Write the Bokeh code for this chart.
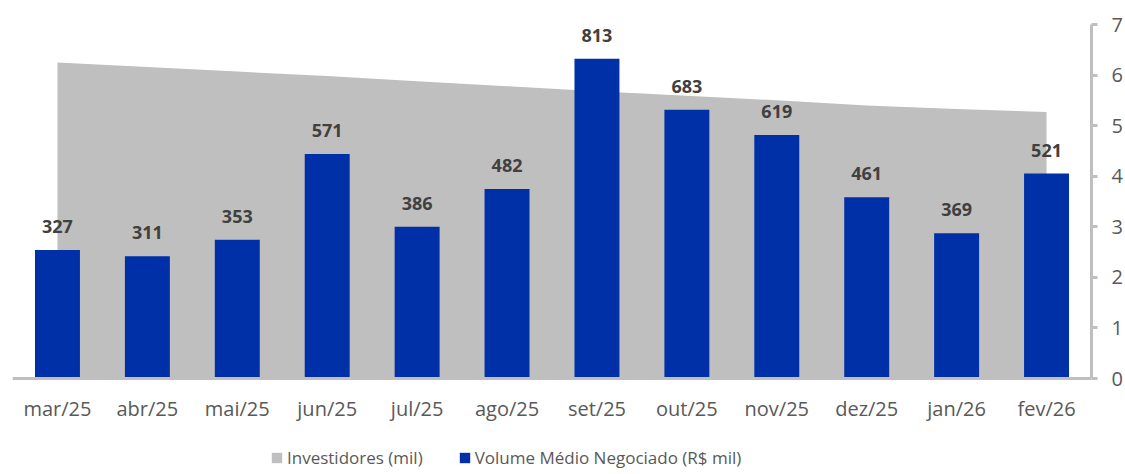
from bokeh.plotting import figure
from bokeh.models import (ColumnDataSource, Range1d, LinearAxis, FixedTicker,
                          LabelSet, Legend, LegendItem, Span)
from bokeh.core.properties import value
from bokeh.embed import file_html
from bokeh.resources import INLINE

# ---- data ----
months = ["mar/25", "abr/25", "mai/25", "jun/25", "jul/25", "ago/25",
          "set/25", "out/25", "nov/25", "dez/25", "jan/26", "fev/26"]
volume = [327, 311, 353, 571, 386, 482, 813, 683, 619, 461, 369, 521]
investidores = [6.25, 6.16, 6.07, 5.98, 5.88, 5.78, 5.68, 5.59, 5.50, 5.40, 5.33, 5.27]
right_ticks = [0, 1, 2, 3, 4, 5, 6, 7]

BLUE = "#0030a8"
GRAY = "#bfbfbf"
TXT = "#595959"
FONT = "Open Sans"

# pixel layout: plot area 354 px tall for the data, 94 px below for labels/legend
DATA_PX = 354.0
BELOW_PX = 94.0
VMAX, IMAX = 900.0, 7.0
v_per_px = VMAX / DATA_PX
i_per_px = IMAX / DATA_PX

src = ColumnDataSource(dict(x=months, vol=volume, inv=investidores,
                            lab=[str(v) for v in volume],
                            ly=[-30.0 * v_per_px] * len(months)))

p = figure(x_range=months, y_range=Range1d(-BELOW_PX * v_per_px, VMAX),
           frame_width=1079, frame_height=int(DATA_PX + BELOW_PX),
           output_backend="svg", toolbar_location=None,
           x_axis_location=None, y_axis_location=None,
           min_border_left=12, min_border_top=24, min_border_right=33,
           min_border_bottom=0)
p.extra_y_ranges = {"inv": Range1d(-BELOW_PX * i_per_px, IMAX)}

area = p.varea(x="x", y1=0, y2="inv", source=src, y_range_name="inv",
               fill_color=GRAY)
bars = p.vbar(x="x", top="vol", width=0.5, source=src, fill_color=BLUE,
              line_color=None)

# baseline (category axis line)
p.add_layout(Span(location=0, dimension="width", line_color=GRAY, line_width=3))

# month labels
p.text(x="x", y="ly", text="x", source=src, text_align="center",
       text_baseline="middle", text_font=value(FONT), text_font_size="20px",
       text_color=TXT)

labels = LabelSet(x="x", y="vol", text="lab", source=src, y_offset=17,
                  text_align="center", text_baseline="alphabetic",
                  text_font=value(FONT), text_font_style="bold",
                  text_font_size="18px", text_color="#404040")
p.add_layout(labels)

# right axis
ax = LinearAxis(y_range_name="inv", ticker=FixedTicker(ticks=right_ticks),
                bounds=(0, IMAX))
ax.axis_line_color = GRAY
ax.axis_line_width = 3
ax.major_tick_line_color = GRAY
ax.major_tick_line_width = 3
ax.major_tick_out = 6
ax.major_tick_in = 0
ax.minor_tick_line_color = None
ax.major_label_standoff = 14
ax.major_label_text_font = FONT
ax.major_label_text_font_size = "20px"
ax.major_label_text_color = TXT
p.add_layout(ax, "right")

p.xgrid.grid_line_color = None
p.ygrid.grid_line_color = None
p.outline_line_color = None

legend = Legend(items=[LegendItem(label="Investidores (mil)", renderers=[area]),
                       LegendItem(label="Volume Médio Negociado (R$ mil)", renderers=[bars])],
                orientation="horizontal", location=(258, 3),
                padding=0, margin=0, spacing=35, label_standoff=4,
                glyph_width=13, glyph_height=13, label_height=20,
                border_line_color=None, background_fill_alpha=0,
                label_text_font=FONT, label_text_font_size="17px",
                label_text_color=TXT)
p.add_layout(legend, "center")

open("out.html", "w").write(file_html(p, INLINE))
